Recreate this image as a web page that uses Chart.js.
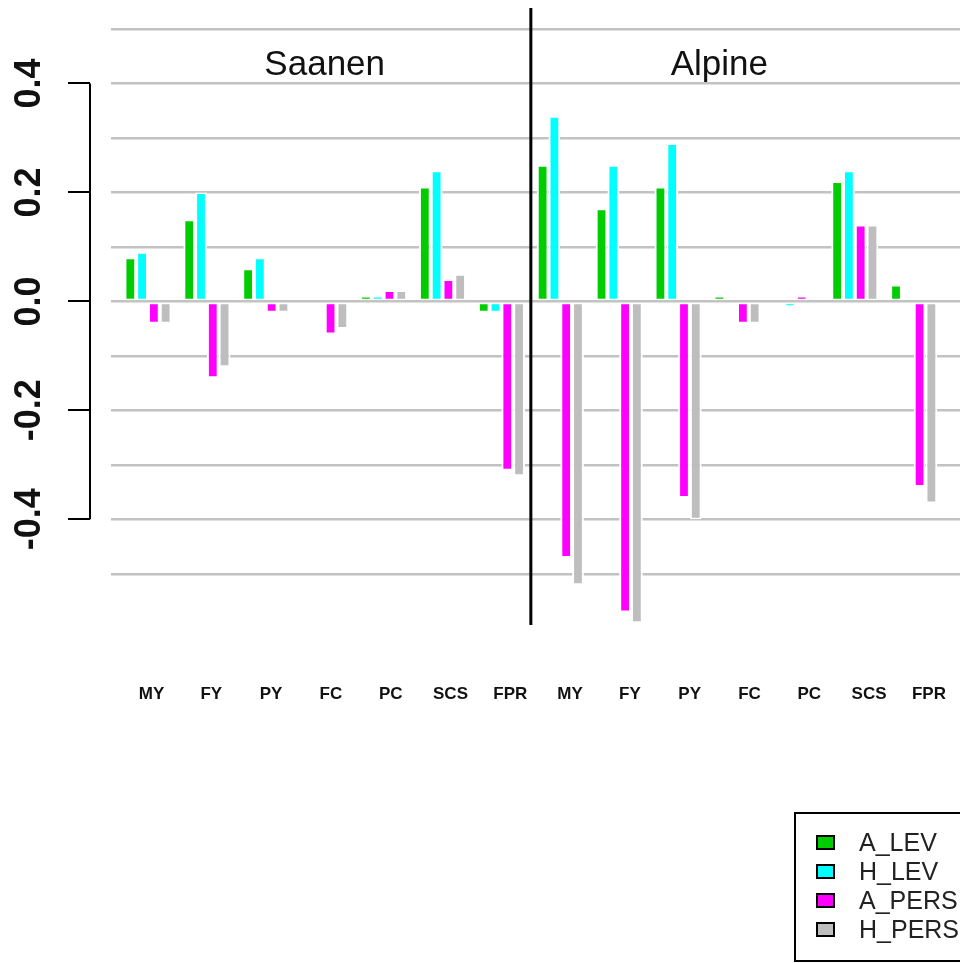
<!DOCTYPE html>
<html>
<head>
<meta charset="utf-8">
<title>LEV / PERS by breed</title>
<script src="https://cdn.jsdelivr.net/npm/chart.js@4.4.1/dist/chart.umd.min.js"></script>
<style>
  html, body { margin: 0; padding: 0; background: #fff; overflow: hidden; }
  #wrap { position: relative; width: 960px; height: 963px; }
  #legend {
    position: absolute; left: 794px; top: 812px; width: 220px; height: 150px;
    box-sizing: border-box; border: 2px solid #000; padding-top: 14px;
    font-family: 'Liberation Sans', Arial, sans-serif; font-size: 25px; color: #222;
  }
  #legend .item { height: 29px; display: flex; align-items: center; }
  #legend .swatch { width: 15px; height: 11px; border: 2px solid #000; margin-left: 20px; margin-right: 24px; }
</style>
</head>
<body>
<div id="wrap">
  <canvas id="effectsChart" width="960" height="963"></canvas>
  <div id="legend"></div>
</div>
<script>
// traits, Saanen block then Alpine block
const categories = ['MY', 'FY', 'PY', 'FC', 'PC', 'SCS', 'FPR', 'MY', 'FY', 'PY', 'FC', 'PC', 'SCS', 'FPR'];
const breeds = ['Saanen', 'Alpine'];

const aLev  = [0.08, 0.15, 0.06, 0, 0.01, 0.21, -0.02, 0.25, 0.17, 0.21, 0.01, 0, 0.22, 0.03];
const hLev  = [0.09, 0.20, 0.08, 0, 0.01, 0.24, -0.02, 0.34, 0.25, 0.29, 0, -0.01, 0.24, 0];
const aPers = [-0.04, -0.14, -0.02, -0.06, 0.02, 0.04, -0.31, -0.47, -0.57, -0.36, -0.04, 0.01, 0.14, -0.34];
const hPers = [-0.04, -0.12, -0.02, -0.05, 0.02, 0.05, -0.32, -0.52, -0.59, -0.40, -0.04, 0, 0.14, -0.37];

const gridValues = [-0.5, -0.4, -0.3, -0.2, -0.1, 0, 0.1, 0.2, 0.3, 0.4, 0.5];
const tickValues = [-0.4, -0.2, 0, 0.2, 0.4];

// where the breed titles and the divider sit, in trait index units
const titleAt = [3, 9.7];
const dividerAt = 6.5;

const FONT = "'Liberation Sans', Arial, sans-serif";
Chart.defaults.font.family = FONT;
Chart.defaults.color = '#111';

const Y_MIN = -0.594, Y_MAX = 0.5385;

function series(label, values, color) {
    return {
        label: label,
        data: values.map((v, i) => ({ x: i, y: v })),
        backgroundColor: color,
        borderColor: '#fff',
        borderWidth: { top: 1.5, bottom: 1.5, left: 2, right: 2 },
        borderSkipped: false,
        inflateAmount: 0,
        categoryPercentage: 0.8,
        barPercentage: 1.0
    };
}

// no extra padding from label overhang, axes sit flush
function noPadding(scale) {
    scale.paddingTop = 0;
    scale.paddingBottom = 0;
    scale.paddingLeft = 0;
    scale.paddingRight = 0;
}

// breed titles, divider and the short y axis line
const decorations = {
    id: 'decorations',
    afterDatasetsDraw(chart) {
        const ctx = chart.ctx;
        const x = chart.scales.x;
        const yAxis = chart.scales.yAxis;
        const area = chart.chartArea;
        ctx.save();

        const xd = x.getPixelForValue(dividerAt);
        ctx.strokeStyle = '#000';
        ctx.lineWidth = 3;
        ctx.beginPath();
        ctx.moveTo(xd, area.top);
        ctx.lineTo(xd, area.bottom);
        ctx.stroke();

        ctx.lineWidth = 2;
        ctx.beginPath();
        ctx.moveTo(yAxis.right, yAxis.getPixelForValue(Math.max(...tickValues)));
        ctx.lineTo(yAxis.right, yAxis.getPixelForValue(Math.min(...tickValues)));
        ctx.stroke();

        ctx.fillStyle = '#111';
        ctx.font = '35px ' + FONT;
        ctx.textAlign = 'center';
        ctx.textBaseline = 'alphabetic';
        breeds.forEach(function (b, i) {
            ctx.fillText(b, x.getPixelForValue(titleAt[i]), 75);
        });
        ctx.restore();
    }
};

const chart = new Chart(document.getElementById('effectsChart'), {
    type: 'bar',
    data: {
        datasets: [
            series('A_LEV', aLev, '#00cd00'),
            series('H_LEV', hLev, '#00ffff'),
            series('A_PERS', aPers, '#ff00ff'),
            series('H_PERS', hPers, '#bebebe')
        ]
    },
    options: {
        responsive: false,
        animation: false,
        layout: { padding: { top: 8, right: 0, bottom: 0, left: 0 } },
        plugins: {
            legend: { display: false },
            tooltip: { enabled: false }
        },
        scales: {
            x: {
                type: 'linear',
                display: false,
                offset: false,
                min: -0.628,
                max: 13.786,
                grid: { offset: false },
                afterBuildTicks: function (scale) {
                    scale.ticks = categories.map((c, i) => ({ value: i }));
                }
            },
            // trait labels sit on their own spacing
            xLabels: {
                type: 'linear',
                position: 'bottom',
                offset: false,
                min: -0.677,
                max: 13.52,
                grid: { display: false, drawTicks: false, offset: false },
                border: { display: false },
                afterBuildTicks: function (scale) {
                    scale.ticks = categories.map((c, i) => ({ value: i }));
                },
                afterFit: function (scale) { scale.height = 338; noPadding(scale); },
                ticks: {
                    autoSkip: false,
                    maxRotation: 0,
                    padding: 59,
                    color: '#111',
                    font: { size: 17, weight: 'bold' },
                    callback: function (v) { return categories[v]; }
                }
            },
            y: {
                position: 'left',
                weight: 0,
                min: Y_MIN,
                max: Y_MAX,
                afterBuildTicks: function (scale) {
                    scale.ticks = gridValues.map(v => ({ value: v }));
                },
                afterFit: function (scale) { scale.width = 21; noPadding(scale); },
                grid: { color: '#c2c2c2', lineWidth: 2.5, drawTicks: false },
                border: { display: false },
                ticks: { display: false }
            },
            yAxis: {
                position: 'left',
                weight: 10,
                min: Y_MIN,
                max: Y_MAX,
                afterBuildTicks: function (scale) {
                    scale.ticks = tickValues.map(v => ({ value: v }));
                },
                afterFit: function (scale) { scale.width = 90; noPadding(scale); },
                grid: { drawOnChartArea: false, color: '#000', lineWidth: 2, tickLength: 22 },
                border: { display: false },
                ticks: {
                    minRotation: 90,
                    maxRotation: 90,
                    crossAlign: 'center',
                    padding: 7,
                    color: '#111',
                    font: { size: 36, weight: 'bold' },
                    callback: function (v) { return v.toFixed(1); }
                }
            }
        }
    },
    plugins: [decorations]
});

// legend box, bottom right
const legendBox = document.getElementById('legend');
chart.data.datasets.forEach(function (ds) {
    const item = document.createElement('div');
    item.className = 'item';
    const sw = document.createElement('span');
    sw.className = 'swatch';
    sw.style.background = ds.backgroundColor;
    const txt = document.createElement('span');
    txt.textContent = ds.label;
    item.appendChild(sw);
    item.appendChild(txt);
    legendBox.appendChild(item);
});
</script>
</body>
</html>
